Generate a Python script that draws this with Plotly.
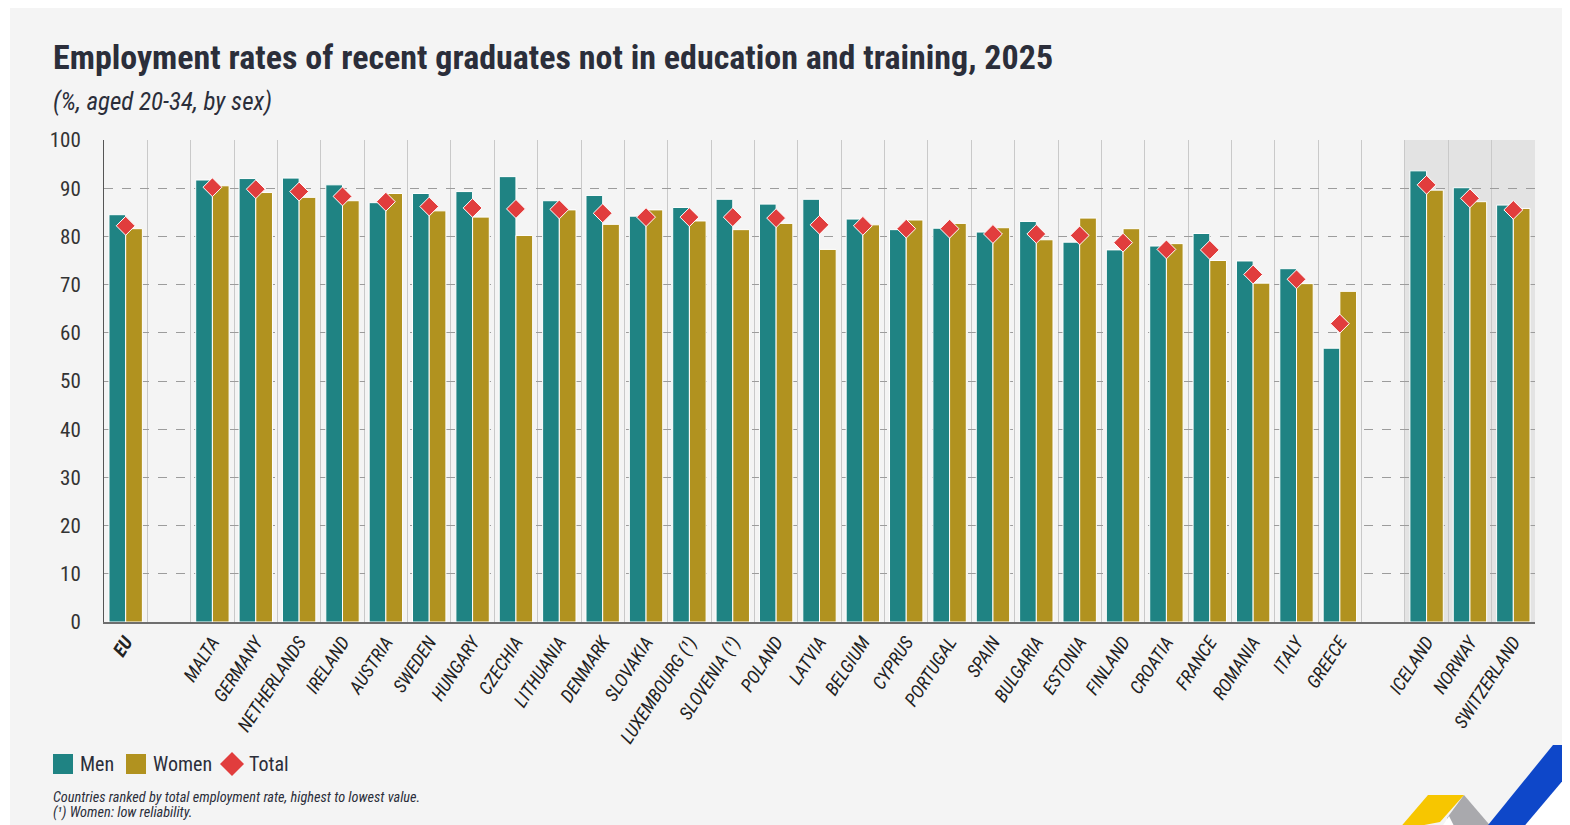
import plotly.graph_objects as go

# ---------------- data ----------------
eu_names = ["EU"]
eu_men = [84.5]
eu_women = [81.6]
eu_total = [82.2]

countries = ["MALTA", "GERMANY", "NETHERLANDS", "IRELAND", "AUSTRIA", "SWEDEN",
             "HUNGARY", "CZECHIA", "LITHUANIA", "DENMARK", "SLOVAKIA",
             "LUXEMBOURG (¹)", "SLOVENIA (¹)", "POLAND", "LATVIA", "BELGIUM",
             "CYPRUS", "PORTUGAL", "SPAIN", "BULGARIA", "ESTONIA", "FINLAND",
             "CROATIA", "FRANCE", "ROMANIA", "ITALY", "GREECE"]
men = [91.7, 92.0, 92.1, 90.7, 87.0, 88.9, 89.3, 92.4, 87.4, 88.5, 84.2,
       86.0, 87.7, 86.7, 87.7, 83.6, 81.4, 81.7, 80.9, 83.1, 78.8, 77.2,
       78.0, 80.6, 74.9, 73.3, 56.8]
women = [90.5, 89.1, 88.1, 87.4, 88.9, 85.3, 84.0, 80.2, 85.5, 82.5, 85.5,
         83.2, 81.4, 82.7, 77.3, 82.4, 83.4, 82.7, 81.8, 79.3, 83.8, 81.6,
         78.5, 75.0, 70.3, 70.2, 68.6]
total = [90.2, 89.8, 89.3, 88.3, 87.2, 86.2, 85.9, 85.7, 85.6, 84.8, 84.0,
         84.0, 84.0, 83.8, 82.4, 82.2, 81.6, 81.6, 80.5, 80.5, 80.2, 78.7,
         77.3, 77.2, 72.1, 71.1, 61.9]

efta_names = ["ICELAND", "NORWAY", "SWITZERLAND"]
efta_men = [93.6, 90.1, 86.5]
efta_women = [89.6, 87.2, 85.8]
efta_total = [90.7, 87.9, 85.5]

y_ticks = [0, 10, 20, 30, 40, 50, 60, 70, 80, 90, 100]

# ---------------- styles ----------------
TEAL = "#1f8383"
GOLD = "#b1921f"
RED = "#e13d3d"
BG = "#f4f4f4"
TXT = "#2b2e3a"
FONT = "Liberation Sans Narrow, Roboto Condensed, DejaVu Sans Condensed, Arial Narrow, sans-serif"

# page has an 8px body margin: figure coords = page coords - 8
OFF = 8
W, H = 1570 - OFF, 825 - OFF
PL, PR, PT, PB = 104, 1535, 140, 622          # plot area in page pixels
ML, MT = PL - OFF, PT - OFF
MR, MB = W - (PR - OFF), H - (PB - OFF)
PW, PH = PR - PL, PB - PT


def px(x):
    return (x - PL) / PW


def py(y):
    return (PB - y) / PH


gap1, gap2 = " ", "  "
cats = eu_names + [gap1] + countries + [gap2] + efta_names
men_all = eu_men + [None] + men + [None] + efta_men
women_all = eu_women + [None] + women + [None] + efta_women
total_all = eu_total + [None] + total + [None] + efta_total

ticktext = ["<b>EU</b>" if c == "EU" else c for c in cats]

fig = go.Figure()
fig.add_trace(go.Bar(x=cats, y=men_all, name="Men",
                     marker=dict(color=TEAL, line=dict(color="white", width=1))))
fig.add_trace(go.Bar(x=cats, y=women_all, name="Women",
                     marker=dict(color=GOLD, line=dict(color="white", width=1))))
fig.add_trace(go.Scatter(x=cats, y=total_all, name="Total", mode="markers",
                         marker=dict(symbol="diamond", size=14.5, color=RED,
                                     line=dict(color="white", width=1))))

first_efta = cats.index(efta_names[0])
shapes = [
    dict(type="rect", xref="x", yref="paper", x0=first_efta - 0.5,
         x1=len(cats) - 0.5, y0=0, y1=1, fillcolor="#e3e3e3",
         line=dict(width=0), layer="below"),
    # thin white strip on the left (card starts at x=10, y=6 in page)
    dict(type="rect", xref="paper", yref="paper", x0=px(0), x1=px(10),
         y0=py(900), y1=py(0), fillcolor="white", line=dict(width=0), layer="above"),
]


def sq(x0, color):
    return dict(type="rect", xref="paper", yref="paper", x0=px(x0), x1=px(x0 + 20),
                y0=py(774), y1=py(754), fillcolor=color, line=dict(width=0))


shapes.append(sq(53, TEAL))
shapes.append(sq(126, GOLD))
cx, cy, r = 232, 764, 12
shapes.append(dict(type="path", xref="paper", yref="paper",
                   path=f"M {px(cx - r)} {py(cy)} L {px(cx)} {py(cy - r)} L {px(cx + r)} {py(cy)} L {px(cx)} {py(cy + r)} Z",
                   fillcolor=RED, line=dict(width=0)))


def poly(pts, color):
    d = "M " + " L ".join(f"{px(a)} {py(b)}" for a, b in pts) + " Z"
    return dict(type="path", xref="paper", yref="paper", path=d,
                fillcolor=color, line=dict(width=0), layer="above")


# logo (bottom right)
shapes.append(poly([(1575, 766), (1575, 830), (1520, 830)], "white"))
shapes.append(poly([(1464, 795), (1494, 830), (1452, 830), (1447, 818)], "#a9a9ad"))
shapes.append(poly([(1398, 830), (1428, 795), (1464, 795), (1440, 822)], "#f7c600"))
shapes.append(poly([(1440, 830), (1449, 816), (1456, 830)], "white"))
shapes.append(poly([(1553, 745), (1593, 745), (1521, 830), (1484, 830)], "#0e47c9"))


def ann(text, x, y, size, anchor="left"):
    return dict(text=text, x=px(x), y=py(y), xref="paper", yref="paper",
                xanchor=anchor, yanchor="middle", showarrow=False,
                font=dict(family=FONT, size=size, color=TXT))


annotations = [
    ann("<b>Employment rates of recent graduates not in education and training, 2025</b>", 51, 57, 34),
    ann("<i>(%, aged 20-34, by sex)</i>", 51, 101, 25),
    ann("Men", 78, 764, 20),
    ann("Women", 151, 764, 20),
    ann("Total", 247, 764, 20),
    ann("<i>Countries ranked by total employment rate, highest to lowest value.</i>", 51, 797, 14.3),
    ann("<i>(¹) Women: low reliability.</i>", 51, 812, 14.3),
]

fig.update_layout(
    width=W, height=H, autosize=False,
    margin=dict(l=ML, r=MR, t=MT, b=MB, pad=0),
    paper_bgcolor=BG, plot_bgcolor="rgba(0,0,0,0)",
    barmode="group", bargap=0.23, bargroupgap=0,
    showlegend=False,
    shapes=shapes, annotations=annotations,
    font=dict(family=FONT, color=TXT),
    xaxis=dict(type="category", categoryorder="array", categoryarray=cats,
               range=[-0.5, len(cats) - 0.5], tickmode="array", tickvals=cats,
               ticktext=ticktext, tickson="boundaries", showgrid=True,
               gridcolor="#c9c9c9", gridwidth=1, ticks="", tickangle=-57,
               tickfont=dict(family=FONT, size=18.5, color="#222", style="italic"),
               showline=True, linecolor="#6e6e6e", linewidth=2, zeroline=False,
               fixedrange=True),
    yaxis=dict(range=[0, 100], tickmode="array", tickvals=y_ticks,
               showgrid=True, gridcolor="#9c9c9c", griddash="dash", gridwidth=1,
               showline=True, linecolor="#555", linewidth=1, zeroline=False,
               ticks="outside", ticklen=18, tickcolor="rgba(0,0,0,0)",
               tickfont=dict(family=FONT, size=21, color="#333"), fixedrange=True),
)

fig.write_html("out.html")
